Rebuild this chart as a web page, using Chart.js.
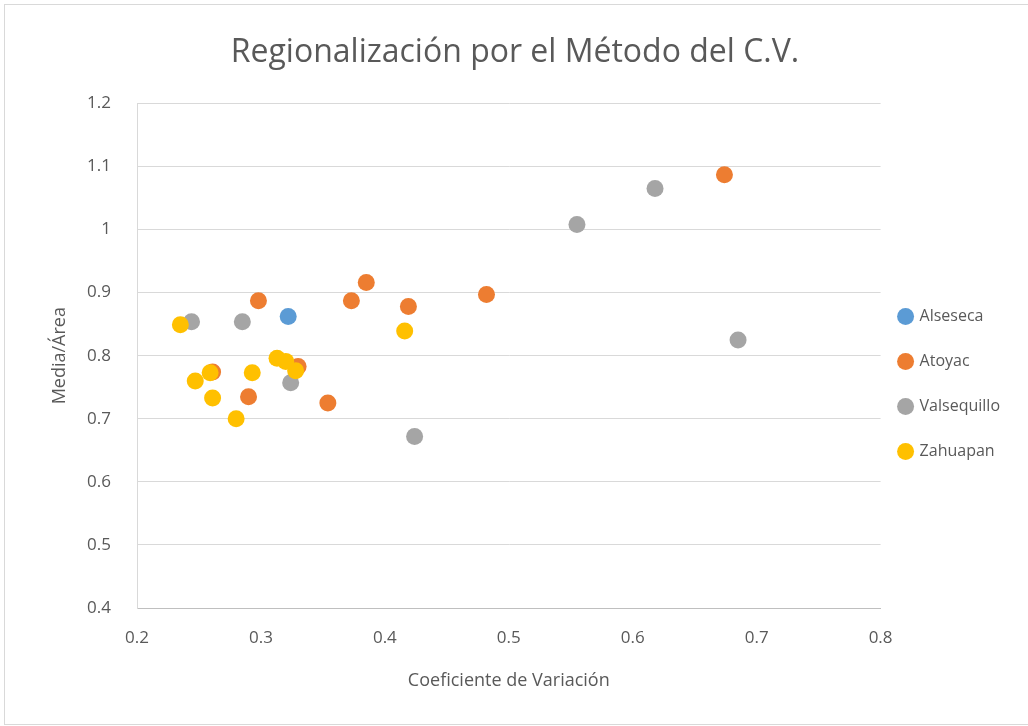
<!DOCTYPE html>
<html>
<head>
<meta charset="utf-8">
<script src="https://cdn.jsdelivr.net/npm/chart.js@4.4.0/dist/chart.umd.min.js"></script>
<style>
  html, body { margin: 0; padding: 0; background: #fff; }
  #wrap { position: relative; width: 1028px; height: 726px; }
</style>
</head>
<body>
<div id="wrap"><canvas id="chart" width="1028" height="726"></canvas></div>
<script>
// values (x = Coeficiente de Variación, y = Media/Área)
const seriesNames = ['Alseseca', 'Atoyac', 'Valsequillo', 'Zahuapan'];
const seriesColors = ['#5B9BD5', '#ED7D31', '#A5A5A5', '#FFC000'];

const alsesecaX = [0.322];
const alsesecaY = [0.862];

const atoyacX = [0.674, 0.385, 0.373, 0.419, 0.482, 0.298, 0.261, 0.290, 0.354, 0.330];
const atoyacY = [1.087, 0.916, 0.887, 0.878, 0.897, 0.887, 0.774, 0.735, 0.725, 0.783];

const valsequilloX = [0.618, 0.555, 0.685, 0.424, 0.244, 0.285, 0.324];
const valsequilloY = [1.065, 1.008, 0.825, 0.672, 0.854, 0.854, 0.757];

const zahuapanX = [0.235, 0.416, 0.247, 0.259, 0.261, 0.280, 0.293, 0.313, 0.320, 0.328];
const zahuapanY = [0.849, 0.839, 0.760, 0.773, 0.733, 0.700, 0.773, 0.796, 0.791, 0.776];

const xTicks = [0.2, 0.3, 0.4, 0.5, 0.6, 0.7, 0.8];
const yTicks = [0.4, 0.5, 0.6, 0.7, 0.8, 0.9, 1, 1.1, 1.2];

const seriesX = [alsesecaX, atoyacX, valsequilloX, zahuapanX];
const seriesY = [alsesecaY, atoyacY, valsequilloY, zahuapanY];

const font = "'Open Sans', sans-serif";
const textColor = '#595959';

const datasets = seriesNames.map((name, i) => ({
  label: name,
  data: seriesX[i].map((x, j) => ({ x: x, y: seriesY[i][j] })),
  backgroundColor: seriesColors[i],
  borderColor: seriesColors[i],
  pointRadius: 8.5,
  pointHoverRadius: 8.5,
  borderWidth: 0,
  order: seriesNames.length - i   // later series on top, like Excel
}));

// thin frame round the whole chart object, and pull the legend a bit closer to the plot
const framePlugin = {
  id: 'frame',
  afterLayout(chart) {
    chart.legend.left -= 10;
    chart.legend.right -= 10;
  },
  afterDraw(chart) {
    const c = chart.ctx;
    c.save();
    c.strokeStyle = '#d9d9d9';
    c.lineWidth = 1;
    c.strokeRect(4.5, 4.5, 1100, 720);
    c.restore();
  }
};

new Chart(document.getElementById('chart'), {
  type: 'scatter',
  data: { datasets },
  plugins: [framePlugin],
  options: {
    responsive: false,
    animation: false,
    layout: { padding: { left: 10, right: 8, top: 0, bottom: 20 } },
    plugins: {
      title: {
        display: true,
        text: 'Regionalización por el Método del C.V.',
        color: textColor,
        font: { family: font, size: 32, weight: 'normal' },
        padding: { top: 34, bottom: 31 }
      },
      legend: {
        position: 'right',
        title: {
          display: true,
          text: ' ',
          font: { size: 10 },
          padding: { top: 50, bottom: 0 }
        },
        labels: {
          usePointStyle: true,
          pointStyle: 'circle',
          boxWidth: 12,
          boxHeight: 12,
          padding: 29,
          color: textColor,
          font: { family: font, size: 16 },
          sort: (a, b) => a.datasetIndex - b.datasetIndex
        }
      },
      tooltip: { enabled: false }
    },
    scales: {
      x: {
        type: 'linear',
        min: 0.2,
        max: 0.8,
        afterBuildTicks: (s) => { s.ticks = xTicks.map(v => ({ value: v })); },
        afterFit: (s) => { s.height = 98; },
        grid: { display: false },
        border: { display: true, color: '#bfbfbf' },
        ticks: {
          padding: 12,
          color: textColor,
          font: { family: font, size: 17 },
          callback: (v) => String(Number(v.toFixed(1)))
        },
        title: {
          display: true,
          text: 'Coeficiente de Variación',
          color: textColor,
          font: { family: font, size: 18 },
          padding: { top: 10, bottom: 14 }
        }
      },
      y: {
        type: 'linear',
        min: 0.4,
        max: 1.2,
        afterBuildTicks: (s) => { s.ticks = yTicks.map(v => ({ value: v })); },
        afterFit: (s) => { s.width = 127; },
        grid: { color: '#d9d9d9', drawTicks: false },
        border: { display: true, color: '#d9d9d9' },
        ticks: {
          padding: 26,
          color: textColor,
          font: { family: font, size: 17 },
          callback: (v) => String(Number(v.toFixed(1)))
        },
        title: {
          display: true,
          text: 'Media/Área',
          color: textColor,
          font: { family: font, size: 18 },
          padding: { top: 39, bottom: 2 }
        }
      }
    }
  }
});
</script>
</body>
</html>
